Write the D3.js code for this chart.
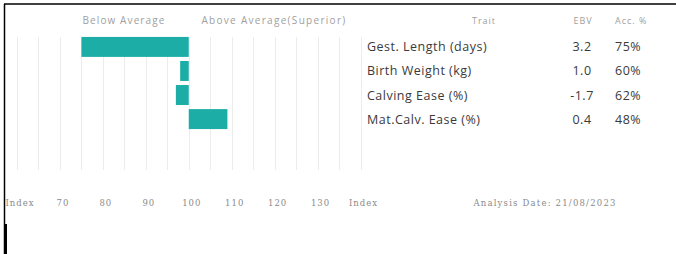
<!DOCTYPE html>
<html>
<head>
<meta charset="utf-8">
<script src="https://cdn.jsdelivr.net/npm/d3@7"></script>
<style>
  body { margin: 0; background: #fff; }
  svg { display: block; }
</style>
</head>
<body>
<svg id="chart" width="676" height="254"></svg>
<script>
// trait data
const traits = ['Gest. Length (days)', 'Birth Weight (kg)', 'Calving Ease (%)', 'Mat.Calv. Ease (%)'];
const ebv = ['3.2', '1.0', '-1.7', '0.4'];
const acc = ['75%', '60%', '62%', '48%'];
const indexVals = [75, 98, 97, 109];

// axis
const gridVals = d3.range(60, 141, 5);
const tickVals = [60, 70, 80, 90, 100, 110, 120, 130, 140];
const tickLabels = ['Index', '70', '80', '90', '100', '110', '120', '130', 'Index'];
const analysisDate = 'Analysis Date: 21/08/2023';

const svg = d3.select('#chart');
const font = "'Open Sans', sans-serif";
const serif = "'DejaVu Serif', serif";

const x = d3.scaleLinear().domain([60, 140]).range([17, 360.5]);
const y = d3.scaleBand().domain(traits).range([35, 131]).paddingInner(0.17).paddingOuter(0.08);

// frame
svg.append('line').attr('x1', 4).attr('x2', 676).attr('y1', 4).attr('y2', 4)
  .attr('stroke', '#000').attr('stroke-width', 1.5);
svg.append('line').attr('x1', 4.5).attr('x2', 4.5).attr('y1', 4).attr('y2', 254)
  .attr('stroke', '#000').attr('stroke-width', 1.5);
svg.append('rect').attr('x', 4).attr('y', 224).attr('width', 3).attr('height', 30).attr('fill', '#000');

// gridlines
svg.append('g').selectAll('line').data(gridVals).join('line')
  .attr('x1', d => Math.round(x(d)) + 0.5).attr('x2', d => Math.round(x(d)) + 0.5)
  .attr('y1', 37).attr('y2', 170)
  .attr('stroke', '#ececec').attr('stroke-width', 1);

// headers
svg.append('text').attr('x', 124).attr('y', 24).attr('text-anchor', 'middle')
  .attr('font-family', font).attr('font-size', 10).attr('letter-spacing', 1.1)
  .attr('fill', '#a0a0a0').text('Below Average');
svg.append('text').attr('x', 274).attr('y', 24).attr('text-anchor', 'middle')
  .attr('font-family', font).attr('font-size', 10).attr('letter-spacing', 1.3)
  .attr('fill', '#a0a0a0').text('Above Average(Superior)');

// bars
svg.append('g').selectAll('rect').data(traits).join('rect')
  .attr('x', (d, i) => x(Math.min(100, indexVals[i])))
  .attr('width', (d, i) => Math.abs(x(indexVals[i]) - x(100)))
  .attr('y', d => y(d))
  .attr('height', y.bandwidth())
  .attr('fill', '#1bada6');

// table
const table = svg.append('g').attr('font-family', font);
table.append('text').attr('x', 484).attr('y', 24).attr('text-anchor', 'middle')
  .attr('font-size', 9).attr('letter-spacing', 1).attr('fill', '#a0a0a0').text('Trait');
table.append('text').attr('x', 583).attr('y', 24).attr('text-anchor', 'middle')
  .attr('font-size', 9).attr('letter-spacing', 1).attr('fill', '#a0a0a0').text('EBV');
table.append('text').attr('x', 615).attr('y', 24)
  .attr('font-size', 9).attr('letter-spacing', 1).attr('fill', '#a0a0a0').text('Acc. %');

const rows = table.selectAll('g.row').data(traits).join('g').attr('class', 'row')
  .attr('transform', d => `translate(0,${y(d) + y.bandwidth() / 2 + 4.5})`)
  .attr('font-size', 12.5).attr('letter-spacing', 0.5).attr('fill', '#3a3a3a');
rows.append('text').attr('x', 367).text(d => d);
rows.append('text').attr('x', 582).attr('text-anchor', 'middle').text((d, i) => ebv[i]);
rows.append('text').attr('x', 615).text((d, i) => acc[i]);

// bottom axis labels
svg.append('g').selectAll('text').data(tickVals).join('text')
  .attr('x', d => x(d) + 3).attr('y', 206).attr('text-anchor', 'middle')
  .attr('font-family', serif).attr('font-size', 8.5).attr('letter-spacing', 1)
  .attr('fill', '#8a8a8a')
  .text((d, i) => tickLabels[i]);

svg.append('text').attr('x', 545).attr('y', 206).attr('text-anchor', 'middle')
  .attr('font-family', serif).attr('font-size', 8.5).attr('letter-spacing', 1.2)
  .attr('fill', '#8a8a8a')
  .text(analysisDate);
</script>
</body>
</html>
